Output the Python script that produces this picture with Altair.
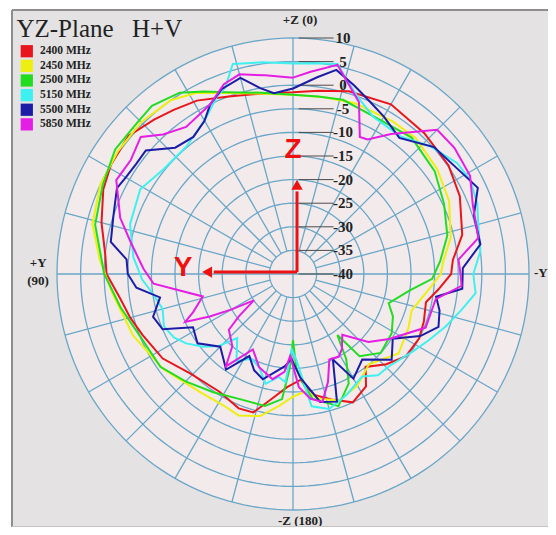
import altair as alt
import numpy as np
import pandas as pd

# ---------------- data (angle in degrees from +Z, counter-clockwise toward +Y; gain in dB)
freqs = ["2400 MHz", "2450 MHz", "2500 MHz", "5150 MHz", "5500 MHz", "5850 MHz"]
colors = ["#e8161c", "#eeee10", "#22dc22", "#3ef0f0", "#1c1ca6", "#e41ee4"]

ang_2400 = [0,10,20,29,36,42,50,59,66,75,84,90,98,105,112,123,134,148,158,164,170,177,184,190,197,205,213,218,226,234,243,250,258,264,270,275,283,295,305,317,330,343,352,360]
db_2400 = [-1.5,-1.2,0,2,3,4,5.5,5,4,2,0,-0.5,-3,-4.3,-5.6,-7.1,-9.7,-10.6,-9.3,-9.5,-13,-16,-17.5,-14,-12.2,-10,-11.6,-15,-12.5,-10.4,-10,-10.5,-11.2,-9,-6.5,-6,-3.2,-1,0.2,0.8,1.5,0.5,-0.8,-1.5]

ang_2450 = [0,10,20,28,35,45,55,65,76,86,96,111,126,142,152,159,167,174,180,186,192,200,210,220,233,245,253,262,270,275,283,295,306,318,327,340,350,360]
db_2450 = [-2,-1.2,0.8,3.5,5,5.5,5.3,5,3.8,1,-1.5,-3.7,-5.9,-8.2,-8.5,-7.9,-9.1,-11.9,-14,-15,-13,-11.5,-12.7,-15,-12,-13,-13.7,-11.5,-8.7,-8,-5.7,-3.5,-2.2,-1.2,-1.4,-1.5,-2,-2]

ang_2500 = [0,10,20,26,32,40,46,55,65,76,90,101,112,125,135,146,157,168,175,178,180,182,186,189,199,207,212,216,219,228,239,247,253,262,268,275,284,295,306,319,330,344,352,360]
db_2500 = [-2,-1,1,3,5.3,6.5,6,6,4.5,3.2,0,-2.8,-5,-5.7,-7.8,-9.8,-11.2,-11.4,-13.4,-20,-26,-20,-16,-13.2,-10.4,-14,-18.7,-24,-17.6,-15,-15.6,-17,-18.8,-15,-10.5,-8.7,-6.3,-4.7,-2.9,-1.7,-2.5,-1.6,-2,-2]

ang_5150 = [0,8,16,20,23,30,40,51,61,73,84,92,98,105,112,118,123,129,134,139,147,154,160,166,172,176,179,182,188,195,204,214,220,226,237,244,251,258,264,270,277,284,291,298,304,313,322,333,340,345,348,353,360]
db_5150 = [4.6,5.3,6.3,2,1,-2.5,-4.8,-4.7,-3,-3.9,-6,-8,-10,-11.4,-10.5,-11.4,-13,-15.5,-18,-22,-18,-20,-19,-16,-18,-17,-24,-22,-11.7,-10.4,-12,-13.8,-12,-11.8,-9.8,-8,-5.8,-3.5,-1.1,-1.8,0,0.5,1.8,2.5,2,-0.3,-3,-2.6,0,3,5.5,5,4.6]

ang_5500 = [0,6,10,15,21,26,30,36,43,50,55,60,64,72,80,85,90,95,100,107,113,118,126,135,145,152,158,164,170,175,179,184,192,199,205,210,219,229,237,244,250,256,261,265,272,279,288,295,300,312,322,330,336,342,348,353,360]
db_5500 = [-0.7,-1.5,0,3,2,0,-2.5,-4.1,-3.4,0.7,0.6,0.9,1.5,0,-0.8,-4.6,-5,-6.7,-11.4,-9,-10,-16,-15,-18.2,-15.3,-20.3,-18,-16.8,-19,-20.4,-22,-18,-12.3,-11.4,-20,-14.4,-16.7,-12.3,-14.8,-10,-7.2,-8,-9.3,-4,-4,0.2,0.3,3.2,1.9,0.2,-3.4,-1.5,0,2,4.2,2,-0.7]

ang_5850 = [0,8,15,20,26,36,43,48,55,62,72,79,88,94,97,104,111,114,117,120,124,128,131,140,144,152,160,169,175,178,183,188,193,198,203,209,213,219,228,236,248,260,266,270,275,281,291,299,308,315,325,331,334,339,348,355,360]
db_5850 = [1.6,2.5,3.8,2.8,0,-1.5,0.4,3.4,2,2.4,-1.5,-5,-8.3,-10.4,-14.4,-20.3,-17.3,-15,-20.2,-25,-30,-25.5,-22,-20,-15.8,-21.9,-19,-17.3,-19.2,-22.6,-16,-13.3,-12.2,-16,-20.3,-20,-21,-23.4,-18.5,-15.4,-9.7,-9.3,-4.2,-4.5,-4.8,0,0.8,2.9,3.4,3.2,-3.8,-7.4,-7.7,-1,5.3,3,1.6]

ring_levels = [-35, -30, -25, -20, -15, -10, -5, 0, 5, 10]
label_levels = [10, 5, 0, -5, -10, -15, -20, -25, -30, -35, -40]
label_texts = ["10", "5", "0", "-5", "-10", "-15", "-20", "-25", "-30", "-35", "-40"]
spoke_angles = list(range(0, 360, 15))
db_min = -40     # centre of the plot
db_max = 10      # outer ring

# ---------------- tables built from the arrays
series = [
    (freqs[0], ang_2400, db_2400),
    (freqs[1], ang_2450, db_2450),
    (freqs[2], ang_2500, db_2500),
    (freqs[3], ang_5150, db_5150),
    (freqs[4], ang_5500, db_5500),
    (freqs[5], ang_5850, db_5850),
]
rows = []
for name, a_list, d_list in series:
    for i, (a, d) in enumerate(zip(a_list, d_list)):
        rows.append({"freq": name, "idx": i, "ang": a, "db": d})
curves = pd.DataFrame(rows)

ring_rows = []
for lv in ring_levels:
    for i, a in enumerate(np.arange(0, 361, 2)):
        ring_rows.append({"level": lv, "idx": i, "ang": float(a), "db": lv})
rings = pd.DataFrame(ring_rows)

spokes = pd.DataFrame({
    "ang": spoke_angles,
    "r0": [0 if a % 90 == 0 else 5 for a in spoke_angles],
})

labels = pd.DataFrame({"level": label_levels, "text": label_texts})
disk = pd.DataFrame({"u": np.linspace(-(db_max - db_min), db_max - db_min, 301)})
legend_df = pd.DataFrame({"freq": freqs, "i": list(range(len(freqs)))})

# ---------------- scales (units = dB above -40)
PX = 236.0 / (db_max - db_min)          # pixels per unit
W, H = 536, 517
CX, CY = 281, 264                        # centre inside the view, pixels
XS = alt.Scale(domain=[-CX / PX, (W - CX) / PX], nice=False, zero=False)
YS = alt.Scale(domain=[-(H - CY) / PX, CY / PX], nice=False, zero=False)

polar_x = "-(datum.db + 40) * sin(datum.ang * PI / 180)"
polar_y = "(datum.db + 40) * cos(datum.ang * PI / 180)"

grid_col = "#6aa6c8"
frame_col = "#8e8e8e"

frame_df = pd.DataFrame({"side": ["left", "top", "bottom"]})
frame_left = alt.Chart(frame_df).transform_filter(alt.datum.side == "left").mark_rule(
    color=frame_col, strokeWidth=2
).encode(x=alt.value(0), y=alt.value(0), y2=alt.value(H))
frame_top = alt.Chart(frame_df).transform_filter(alt.datum.side == "top").mark_rule(
    color=frame_col, strokeWidth=2
).encode(x=alt.value(0), x2=alt.value(W), y=alt.value(0))
frame_bottom = alt.Chart(frame_df).transform_filter(alt.datum.side == "bottom").mark_rule(
    color="#c4c4c4", strokeWidth=2
).encode(x=alt.value(0), x2=alt.value(W), y=alt.value(H))

disk_layer = alt.Chart(disk).mark_area(color="#f3ebeb").transform_calculate(
    lo="-sqrt(max(0, 2500 - datum.u * datum.u))",
    hi="sqrt(max(0, 2500 - datum.u * datum.u))",
).encode(
    x=alt.X("u:Q", scale=XS, axis=None),
    y=alt.Y("lo:Q", scale=YS, axis=None),
    y2="hi:Q",
)

ring_layer = alt.Chart(rings).mark_line(color=grid_col, strokeWidth=1.3).transform_calculate(
    px=polar_x, py=polar_y
).encode(
    x=alt.X("px:Q", scale=XS, axis=None),
    y=alt.Y("py:Q", scale=YS, axis=None),
    detail="level:N",
    order="idx:Q",
)

spoke_layer = alt.Chart(spokes).mark_rule(color=grid_col, strokeWidth=1.3).transform_calculate(
    x0="-datum.r0 * sin(datum.ang * PI / 180)",
    y0="datum.r0 * cos(datum.ang * PI / 180)",
    x1="-50 * sin(datum.ang * PI / 180)",
    y1="50 * cos(datum.ang * PI / 180)",
).encode(
    x=alt.X("x0:Q", scale=XS, axis=None),
    y=alt.Y("y0:Q", scale=YS, axis=None),
    x2="x1:Q",
    y2="y1:Q",
)

leader_layer = alt.Chart(labels).mark_rule(color="#4a4a4a", strokeWidth=1).transform_calculate(
    r="datum.level + 40", xa="1.2", xb="8.6"
).encode(
    x=alt.X("xa:Q", scale=XS, axis=None),
    x2="xb:Q",
    y=alt.Y("r:Q", scale=YS, axis=None),
)

label_layer = alt.Chart(labels).mark_text(
    font="Liberation Serif", fontSize=15, fontWeight="bold", color="#222222", align="center", baseline="middle"
).transform_calculate(r="datum.level + 40", xl="10.6").encode(
    x=alt.X("xl:Q", scale=XS, axis=None),
    y=alt.Y("r:Q", scale=YS, axis=None),
    text="text:N",
)

color_scale = alt.Scale(domain=freqs, range=colors)

curve_layers = []
for k, name in enumerate(freqs):
    curve_layers.append(
        alt.Chart(curves).transform_filter(alt.datum.freq == name).transform_calculate(
            px=polar_x, py=polar_y
        ).mark_line(strokeWidth=2).encode(
            x=alt.X("px:Q", scale=XS, axis=None),
            y=alt.Y("py:Q", scale=YS, axis=None),
            color=alt.Color("freq:N", scale=color_scale, legend=None),
            order="idx:Q",
        )
    )

# legend (drawn as marks, top-left)
legend_sq = alt.Chart(legend_df).mark_square(size=150, opacity=1, filled=True).transform_calculate(
    lx="-56.4", ly="47.2 - datum.i * 3.1"
).encode(
    x=alt.X("lx:Q", scale=XS, axis=None),
    y=alt.Y("ly:Q", scale=YS, axis=None),
    color=alt.Color("freq:N", scale=color_scale, legend=None),
)
legend_tx = alt.Chart(legend_df).mark_text(
    font="Liberation Serif", fontSize=11.5, fontWeight="bold", color="#222222", align="left", baseline="middle"
).transform_calculate(
    lx="-53.6", ly="47.2 - datum.i * 3.1"
).encode(
    x=alt.X("lx:Q", scale=XS, axis=None),
    y=alt.Y("ly:Q", scale=YS, axis=None),
    text="freq:N",
)

# direction annotations (red arrows)
arrow_lines = pd.DataFrame({"xa": [0.85, 0.85], "ya": [0.4, 0.4], "xb": [0.85, -16.8], "yb": [17.5, 0.4]})
arrow_heads = pd.DataFrame({"x": [0.85, -18.2], "y": [18.9, 0.4], "shape": ["triangle-up", "triangle-left"]})
arrow_text = pd.DataFrame({"x": [0.0, -23.3], "y": [26.2, 1.2], "t": ["Z", "Y"]})

arrow_rule = alt.Chart(arrow_lines).mark_rule(color="#ee1111", strokeWidth=3).encode(
    x=alt.X("xa:Q", scale=XS, axis=None), y=alt.Y("ya:Q", scale=YS, axis=None), x2="xb:Q", y2="yb:Q"
)
arrow_head = alt.Chart(arrow_heads).mark_point(filled=True, color="#ee1111", size=130, opacity=1).encode(
    x=alt.X("x:Q", scale=XS, axis=None), y=alt.Y("y:Q", scale=YS, axis=None),
    shape=alt.Shape("shape:N", scale=None, legend=None),
)
arrow_lbl = alt.Chart(arrow_text).mark_text(
    font="Liberation Sans", fontSize=28, fontWeight="bold", color="#ee1111"
).encode(x=alt.X("x:Q", scale=XS, axis=None), y=alt.Y("y:Q", scale=YS, axis=None), text="t:N")

# plane / axis direction texts
dir_text = pd.DataFrame({
    "x": [1.5, 1.5, -54.0, -54.0, 52.5],
    "y": [53.8, -52.4, 2.3, -1.5, 0.2],
    "t": ["+Z (0)", "-Z (180)", "+Y", "(90)", "-Y"],
})
dir_layer = alt.Chart(dir_text).mark_text(
    font="Liberation Serif", fontSize=13, fontWeight="bold", color="#222222"
).encode(x=alt.X("x:Q", scale=XS, axis=None), y=alt.Y("y:Q", scale=YS, axis=None), text="t:N")

title_text = pd.DataFrame({"x": [-58.6, -34.1], "y": [52.0, 52.0], "t": ["YZ-Plane", "H+V"]})
title_layer = alt.Chart(title_text).mark_text(
    font="Liberation Serif", fontSize=25, color="#222222", align="left"
).encode(x=alt.X("x:Q", scale=XS, axis=None), y=alt.Y("y:Q", scale=YS, axis=None), text="t:N")

chart = alt.layer(
    disk_layer, ring_layer, spoke_layer, leader_layer, label_layer,
    *curve_layers,
    legend_sq, legend_tx,
    arrow_rule, arrow_head, arrow_lbl, dir_layer, title_layer,
    frame_left, frame_top, frame_bottom,
).properties(
    width=W, height=H,
    autosize=alt.AutoSizeParams(type="none"),
    padding={"left": 4, "top": 2, "right": 0, "bottom": 0},
    background="white",
).configure_view(fill="#e4e2e2", strokeWidth=0)

chart.save("out.html", embed_options={"renderer": "svg", "actions": False})
